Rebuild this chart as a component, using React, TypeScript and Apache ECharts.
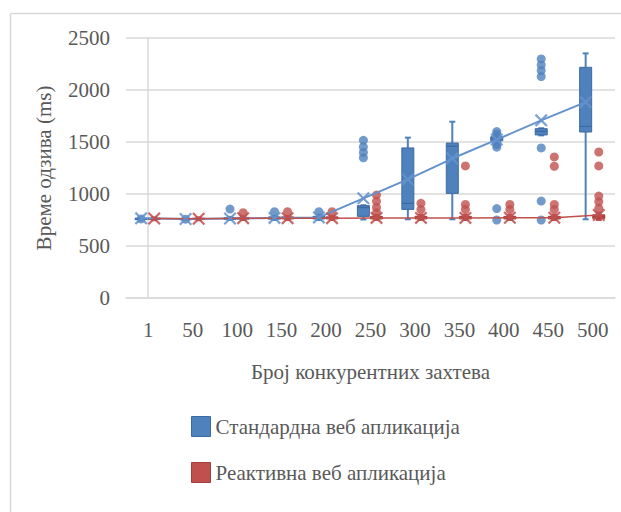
import React, { useEffect, useRef } from "react";
import * as echarts from "echarts";

const categories = ["1", "50", "100", "150", "200", "250", "300", "350", "400", "450", "500"];
const yTicks = [0, 500, 1000, 1500, 2000, 2500];

// [min, q1, median, q3, max]
const standardBoxes = [
  [748, 754, 760, 768, 775],
  [748, 752, 756, 762, 768],
  [750, 755, 762, 772, 780],
  [750, 758, 768, 780, 790],
  [750, 760, 770, 785, 800],
  [755, 785, 870, 888, 892],
  [757, 852, 910, 1443, 1542],
  [757, 1006, 1459, 1490, 1695],
  [1495, 1512, 1530, 1550, 1565],
  [1564, 1568, 1602, 1628, 1632],
  [757, 1596, 1650, 2218, 2352],
];
const standardMeans = [766, 760, 765, 770, 775, 958, 1140, 1341, 1523, 1708, 1883];
const standardOutliers = [
  [760],
  [758],
  [855],
  [830],
  [830],
  [1516, 1453, 1400, 1348],
  [],
  [],
  [1600, 1575, 1550, 1525, 1500, 1475, 1450, 860, 750],
  [2299, 2241, 2187, 2129, 1443, 932, 750],
  [],
];

const reactiveBoxes = [
  [748, 755, 760, 768, 775],
  [748, 755, 760, 768, 775],
  [750, 758, 765, 775, 785],
  [750, 760, 768, 780, 790],
  [750, 760, 768, 780, 790],
  [750, 760, 770, 785, 800],
  [750, 760, 770, 785, 800],
  [750, 760, 770, 785, 800],
  [750, 760, 770, 785, 800],
  [750, 760, 770, 785, 800],
  [750, 765, 780, 800, 820],
];
const reactiveMeans = [765, 762, 768, 768, 768, 770, 770, 770, 772, 772, 798];
const reactiveOutliers = [
  [],
  [],
  [820],
  [830],
  [830],
  [990, 930, 870, 820],
  [910, 850],
  [1270, 900, 850],
  [900, 850],
  [1356, 1267, 900, 850],
  [1404, 1270, 980, 925, 862],
];

const seriesNames = ["Стандардна веб апликација", "Реактивна веб апликација"];

const BLUE = "#4F81BD";
const BLUE_DARK = "#3B6AA3";
const BLUE_LINE = "#6392CC";
const RED = "#C0504D";
const RED_DARK = "#A33F3C";
const TEXT = "#595959";
const GRID = "#D9D9D9";
const FONT = "Liberation Serif";
const FS = 21;

const BLUE_SHIFT = -0.16;
const RED_SHIFT = 0.135;

const X_PATH =
  "path://M0,1.2 L1.2,0 L5,3.8 L8.8,0 L10,1.2 L6.2,5 L10,8.8 L8.8,10 L5,6.2 L1.2,10 L0,8.8 L3.8,5 Z";

function boxRenderer(fill: string, stroke: string) {
  return (params: any, api: any) => {
    const x = api.value(0);
    const lo = api.coord([x, api.value(1)]);
    const q1 = api.coord([x, api.value(2)]);
    const med = api.coord([x, api.value(3)]);
    const q3 = api.coord([x, api.value(4)]);
    const hi = api.coord([x, api.value(5)]);
    const cx = lo[0];
    const w = 12;
    const cap = 3;
    const lineStyle = { stroke: fill, lineWidth: 2 };
    return {
      type: "group",
      children: [
        { type: "line", shape: { x1: cx, y1: hi[1], x2: cx, y2: q3[1] }, style: lineStyle },
        { type: "line", shape: { x1: cx, y1: q1[1], x2: cx, y2: lo[1] }, style: lineStyle },
        { type: "line", shape: { x1: cx - cap, y1: hi[1], x2: cx + cap, y2: hi[1] }, style: lineStyle },
        { type: "line", shape: { x1: cx - cap, y1: lo[1], x2: cx + cap, y2: lo[1] }, style: lineStyle },
        {
          type: "rect",
          shape: { x: cx - w / 2, y: q3[1], width: w, height: Math.max(q1[1] - q3[1], 1) },
          style: { fill, stroke, lineWidth: 1 },
        },
        {
          type: "line",
          shape: { x1: cx - w / 2, y1: med[1], x2: cx + w / 2, y2: med[1] },
          style: { stroke, lineWidth: 1.2 },
        },
      ],
    };
  };
}

function buildSeries(
  name: string,
  boxes: number[][],
  means: number[],
  outliers: number[][],
  shift: number,
  fill: string,
  stroke: string,
  lineColor: string,
  lineWidth: number
) {
  const boxData = boxes.map((b, i) => [i + shift, ...b]);
  const meanData = means.map((m, i) => [i + shift, m]);
  const outData: number[][] = [];
  outliers.forEach((list, i) => list.forEach((v) => outData.push([i + shift, v])));
  return [
    {
      name,
      type: "custom",
      xAxisIndex: 1,
      yAxisIndex: 0,
      renderItem: boxRenderer(fill, stroke),
      encode: { x: 0, y: [1, 2, 3, 4, 5] },
      data: boxData,
      itemStyle: { color: fill },
    },
    {
      name,
      type: "scatter",
      xAxisIndex: 1,
      yAxisIndex: 0,
      symbol: "circle",
      symbolSize: 9,
      itemStyle: { color: fill },
      data: outData,
    },
    {
      name,
      type: "line",
      xAxisIndex: 1,
      yAxisIndex: 0,
      symbol: X_PATH,
      symbolSize: 13,
      showSymbol: true,
      itemStyle: { color: lineColor, opacity: 0.85 },
      lineStyle: { color: lineColor, width: lineWidth },
      data: meanData,
    },
  ];
}

export default function App() {
  const ref = useRef<HTMLDivElement>(null);
  useEffect(() => {
    if (!ref.current) return;
    const chart = echarts.init(ref.current, undefined, { renderer: "svg" });
    const option: any = {
      animation: false,
      backgroundColor: "#ffffff",
      textStyle: { fontFamily: FONT },
      grid: { left: 126, right: 6, top: 38, bottom: 214, containLabel: false },
      legend: {
        orient: "vertical",
        left: 186,
        top: 411,
        itemWidth: 19,
        itemHeight: 20,
        itemGap: 25,
        selectedMode: false,
        textStyle: { fontFamily: FONT, fontSize: FS, color: TEXT },
        data: [
          { name: seriesNames[0], icon: "rect", itemStyle: { color: BLUE, borderColor: BLUE_DARK, borderWidth: 1 } },
          { name: seriesNames[1], icon: "rect", itemStyle: { color: RED, borderColor: RED_DARK, borderWidth: 1 } },
        ],
      },
      xAxis: [
        {
          type: "category",
          data: categories,
          boundaryGap: true,
          axisLine: { show: true, lineStyle: { color: GRID, width: 1.5 } },
          axisTick: { show: false },
          axisLabel: { color: TEXT, fontFamily: FONT, fontSize: FS, margin: 21 },
          name: "Број конкурентних захтева",
          nameLocation: "middle",
          nameGap: 63,
          nameTextStyle: { color: TEXT, fontFamily: FONT, fontSize: FS },
        },
        {
          type: "value",
          min: -0.5,
          max: 10.5,
          show: false,
        },
      ],
      yAxis: {
        type: "value",
        min: yTicks[0],
        max: yTicks[yTicks.length - 1],
        interval: 500,
        axisLine: { show: true, lineStyle: { color: GRID, width: 1.5 } },
        axisTick: { show: false },
        axisLabel: {
          color: TEXT,
          fontFamily: FONT,
          fontSize: FS,
          margin: 16,
          formatter: (v: number) => String(v),
        },
        splitLine: { lineStyle: { color: GRID, width: 1.5 } },
        name: "Време одзива (ms)",
        nameLocation: "middle",
        nameGap: 72,
        nameRotate: 90,
        nameTextStyle: { color: TEXT, fontFamily: FONT, fontSize: FS },
      },
      graphic: [
        { type: "line", shape: { x1: 10.5, y1: 13.5, x2: 621, y2: 13.5 }, style: { stroke: GRID, lineWidth: 1.5 } },
        { type: "line", shape: { x1: 10.5, y1: 13.5, x2: 10.5, y2: 512 }, style: { stroke: GRID, lineWidth: 1.5 } },
      ],
      series: [
        ...buildSeries(seriesNames[0], standardBoxes, standardMeans, standardOutliers, BLUE_SHIFT, BLUE, BLUE_DARK, BLUE_LINE, 2),
        ...buildSeries(seriesNames[1], reactiveBoxes, reactiveMeans, reactiveOutliers, RED_SHIFT, RED, RED_DARK, RED, 1.5),
      ],
    };
    chart.setOption(option);
    return () => chart.dispose();
  }, []);
  return (
    <div
      ref={ref}
      style={{ position: "fixed", left: 0, top: 0, width: 621, height: 512 }}
    />
  );
}
